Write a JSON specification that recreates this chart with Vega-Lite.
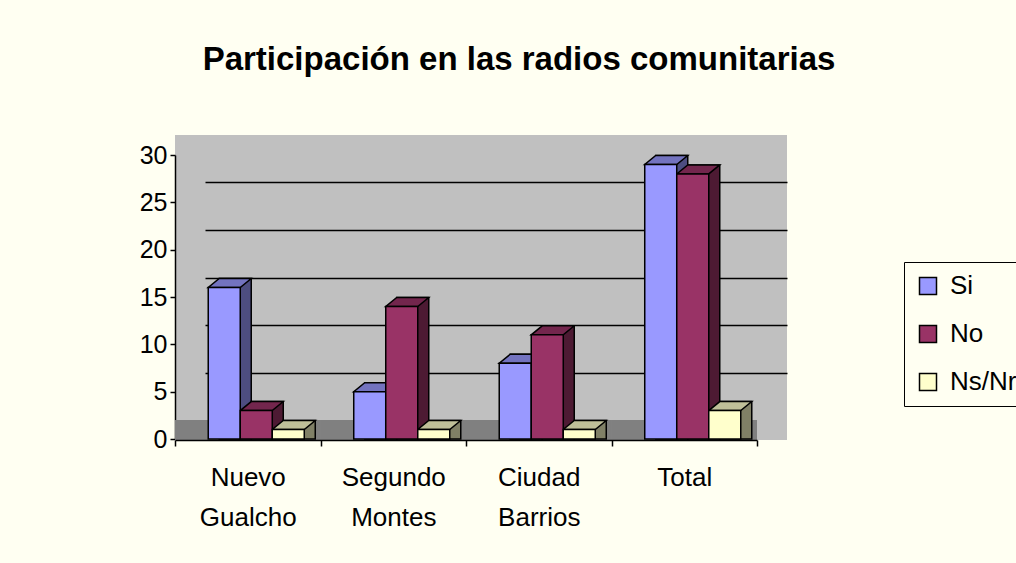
{
  "$schema": "https://vega.github.io/schema/vega-lite/v6.json",
  "width": 612,
  "height": 305,
  "autosize": "none",
  "padding": {"left": 175, "top": 135, "right": 229, "bottom": 123},
  "background": "#FFFFF2",
  "config": {"view": {"fill": "#C0C0C0", "stroke": null}, "font": "Liberation Sans"},
  "title": {"text": "Participación en las radios comunitarias", "fontSize": 33, "fontWeight": "bold", "font": "Liberation Sans", "color": "black", "anchor": "middle", "dx": 38, "baseline": "alphabetic", "offset": 32},
  "data": {"values": [
    {"lugar": "Nuevo Gualcho", "respuesta": "Si", "valor": 16},
    {"lugar": "Nuevo Gualcho", "respuesta": "No", "valor": 3},
    {"lugar": "Nuevo Gualcho", "respuesta": "Ns/Nr", "valor": 1},
    {"lugar": "Segundo Montes", "respuesta": "Si", "valor": 5},
    {"lugar": "Segundo Montes", "respuesta": "No", "valor": 14},
    {"lugar": "Segundo Montes", "respuesta": "Ns/Nr", "valor": 1},
    {"lugar": "Ciudad Barrios", "respuesta": "Si", "valor": 8},
    {"lugar": "Ciudad Barrios", "respuesta": "No", "valor": 11},
    {"lugar": "Ciudad Barrios", "respuesta": "Ns/Nr", "valor": 1},
    {"lugar": "Total", "respuesta": "Si", "valor": 29},
    {"lugar": "Total", "respuesta": "No", "valor": 28},
    {"lugar": "Total", "respuesta": "Ns/Nr", "valor": 3}
  ]},
  "layer": [
    {
      "mark": {"type": "rect", "fill": "#808080", "y2Offset": 20},
      "encoding": {
        "x": {"field": "lugar", "type": "nominal", "sort": ["Nuevo Gualcho", "Segundo Montes", "Ciudad Barrios", "Total"],
              "scale": {"type": "band", "range": [0, 582], "paddingInner": 0, "paddingOuter": 0},
              "axis": {"orient": "bottom", "title": null, "labelAngle": 0, "labelFontSize": 26, "labelColor": "black", "labelFont": "Liberation Sans",
                       "labelExpr": "split(datum.label, ' ')", "labelLineHeight": 40, "labelPadding": 18, "tickBand": "extent",
                       "tickSize": 6, "tickColor": "black", "tickWidth": 1.5, "domainColor": "black", "domainWidth": 1.5, "grid": false}},
        "y": {"datum": 0, "type": "quantitative", "scale": {"domain": [0, 30], "range": [285, 0]},
              "axis": {"orient": "right", "grid": true, "values": [5, 10, 15, 20, 25], "gridColor": "black", "gridWidth": 1.5, "gridOpacity": 1,
                       "labels": false, "ticks": false, "domain": false, "title": null}},
        "y2": {"datum": 0}
      }
    },
    {
      "mark": {"type": "bar", "stroke": "black", "strokeWidth": 1.5, "yOffset": -9, "y2Offset": -5},
      "encoding": {
        "x": {"field": "lugar", "type": "nominal", "sort": ["Nuevo Gualcho", "Segundo Montes", "Ciudad Barrios", "Total"],
              "scale": {"type": "band", "range": [19.5, 601.5], "paddingInner": 0.34, "paddingOuter": 0.17}, "axis": null},
        "xOffset": {"field": "respuesta", "type": "nominal", "sort": ["Si", "No", "Ns/Nr"], "scale": {"type": "band", "paddingInner": 0, "paddingOuter": 0}},
        "y": {"field": "valor", "type": "quantitative", "stack": null, "scale": {"domain": [0, 30], "range": [304, 20]}, "axis": null},
        "color": {"field": "respuesta", "type": "nominal", "scale": {"domain": ["Si", "No", "Ns/Nr"], "range": ["#4D4D80", "#4D1A33", "#808066"]}, "legend": null}
      }
    },
    {
      "mark": {"type": "point", "shape": "M-16,0L16,0L27,-9L-5,-9Z", "size": 4, "filled": true, "opacity": 1, "stroke": "black", "strokeWidth": 1.5},
      "encoding": {
        "x": {"field": "lugar", "type": "nominal", "sort": ["Nuevo Gualcho", "Segundo Montes", "Ciudad Barrios", "Total"],
              "scale": {"type": "band", "range": [8.5, 590.5], "paddingInner": 0.34, "paddingOuter": 0.17}, "axis": null},
        "xOffset": {"field": "respuesta", "type": "nominal", "sort": ["Si", "No", "Ns/Nr"], "scale": {"type": "band", "paddingInner": 0, "paddingOuter": 0}},
        "y": {"field": "valor", "type": "quantitative", "scale": {"domain": [0, 30], "range": [304, 20]}, "axis": null},
        "color": {"field": "respuesta", "type": "nominal", "scale": {"domain": ["Si", "No", "Ns/Nr"], "range": ["#7373BF", "#73264D", "#BFBF99"]}, "legend": null}
      }
    },
    {
      "mark": {"type": "bar", "stroke": "black", "strokeWidth": 1.5},
      "encoding": {
        "x": {"field": "lugar", "type": "nominal", "sort": ["Nuevo Gualcho", "Segundo Montes", "Ciudad Barrios", "Total"],
              "scale": {"type": "band", "range": [8.5, 590.5], "paddingInner": 0.34, "paddingOuter": 0.17}, "axis": null},
        "xOffset": {"field": "respuesta", "type": "nominal", "sort": ["Si", "No", "Ns/Nr"], "scale": {"type": "band", "paddingInner": 0, "paddingOuter": 0}},
        "y": {"field": "valor", "type": "quantitative", "stack": null, "scale": {"domain": [0, 30], "range": [304, 20]},
              "axis": {"orient": "left", "values": [0, 5, 10, 15, 20, 25, 30], "grid": false, "title": null, "labelFontSize": 25, "labelColor": "black",
                       "tickSize": 5, "tickColor": "black", "tickWidth": 1.5, "domainColor": "black", "domainWidth": 1.5, "labelPadding": 3}},
        "color": {"field": "respuesta", "type": "nominal", "scale": {"domain": ["Si", "No", "Ns/Nr"], "range": ["#9999FF", "#993366", "#FFFFCC"]},
                  "legend": {"title": null, "orient": "none", "legendX": 729, "legendY": 127, "fillColor": "#FFFFF2", "strokeColor": "black",
                             "padding": 11, "symbolType": "square", "symbolSize": 289, "symbolStrokeColor": "black", "symbolStrokeWidth": 1.5,
                             "labelFontSize": 26, "labelColor": "black", "rowPadding": 22, "labelOffset": 9}}
      }
    }
  ],
  "resolve": {"scale": {"x": "independent", "y": "independent", "color": "independent"}, "axis": {"x": "independent", "y": "independent"}}
}
